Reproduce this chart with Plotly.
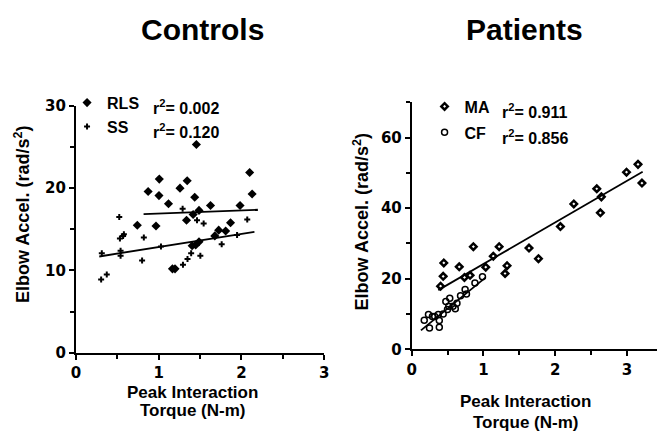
import plotly.graph_objects as go

W, H = 662, 439

# ---------------- data ----------------
rls_x = [1.456, 2.10, 2.13, 1.008, 1.345, 0.873, 1.004, 1.258, 1.436, 1.119, 1.627, 1.984, 1.488,
         1.417, 1.337, 0.742, 0.968, 1.869, 1.726, 1.81, 1.679, 1.488, 1.405, 1.448, 1.167, 1.198]
rls_y = [25.3, 21.9, 19.3, 21.1, 20.9, 19.6, 19.1, 20.0, 18.9, 18.1, 17.9, 17.9, 17.3,
         16.8, 16.1, 15.5, 15.4, 15.8, 14.9, 14.8, 14.2, 13.5, 13.0, 13.1, 10.2, 10.2]
ss_x = [0.305, 0.373, 0.313, 0.54, 0.54, 0.524, 0.532, 0.57, 0.58, 0.821, 0.80, 1.028, 1.29,
        1.464, 1.544, 1.294, 1.349, 1.393, 1.504, 1.762, 1.948, 2.071]
ss_y = [8.9, 9.5, 12.1, 11.8, 12.4, 16.5, 13.9, 14.2, 14.4, 14.0, 11.2, 12.9, 17.5,
        16.1, 15.7, 10.7, 11.4, 12.1, 11.8, 13.2, 14.3, 16.2]
rls_fit_x = [0.818, 2.199]
rls_fit_y = [16.84, 17.38]
ss_fit_x = [0.282, 2.158]
ss_fit_y = [11.7, 14.7]

ma_x = [3.155, 2.995, 3.21, 2.58, 2.644, 2.63, 2.26, 2.073, 1.635, 1.767, 1.219, 0.859, 1.137,
        1.329, 1.301, 1.032, 0.662, 0.447, 0.438, 0.402, 0.735, 0.813]
ma_y = [52.4, 50.2, 47.1, 45.5, 43.2, 38.7, 41.2, 34.8, 28.7, 25.7, 29.1, 29.1, 26.4,
        23.7, 21.5, 23.3, 23.4, 24.5, 20.7, 17.9, 20.4, 21.0]
cf_x = [0.986, 0.881, 0.744, 0.763, 0.68, 0.53, 0.516, 0.607, 0.475, 0.63, 0.498, 0.438, 0.384,
        0.384, 0.288, 0.233, 0.174, 0.32, 0.37, 0.247, 0.575]
cf_y = [20.6, 18.8, 17.0, 15.7, 15.2, 14.5, 12.2, 11.5, 13.6, 13.1, 11.3, 10.0, 8.2,
        6.3, 9.3, 9.9, 8.3, 9.3, 9.9, 6.1, 12.2]
ma_fit_x = [0.37, 3.22]
ma_fit_y = [16.8, 50.3]
cf_fit_x = [0.128, 1.032]
cf_fit_y = [5.4, 20.4]

panel_titles = ["Controls", "Patients"]
legend_names = ["RLS", "SS", "MA", "CF"]
r2_labels = ["r<sup>2</sup>= 0.002", "r<sup>2</sup>= 0.120", "r<sup>2</sup>= 0.911", "r<sup>2</sup>= 0.856"]
y_title = "Elbow Accel. (rad/s<sup>2</sup>)"
x_title_lines = ["Peak Interaction", "Torque (N-m)"]

# ---------------- helpers ----------------
def px(x):
    return x / W

def py(y):
    return 1 - y / H

FONT = "Liberation Sans, Arial, sans-serif"
TICKFONT = dict(family="DejaVu Sans, sans-serif", size=15, color="black", weight="bold")

fig = go.Figure()

# Controls
fig.add_trace(go.Scatter(x=rls_x, y=rls_y, mode="markers", name=legend_names[0],
                         marker=dict(symbol="diamond", size=7, color="black"),
                         xaxis="x", yaxis="y", legend="legend", legendgroup="a"))
fig.add_trace(go.Scatter(x=ss_x, y=ss_y, mode="markers", name=legend_names[1],
                         marker=dict(symbol="cross", size=5, color="black"),
                         xaxis="x", yaxis="y", legend="legend", legendgroup="b"))
fig.add_trace(go.Scatter(x=rls_fit_x, y=rls_fit_y, mode="lines", showlegend=False,
                         line=dict(color="black", width=1.8), xaxis="x", yaxis="y"))
fig.add_trace(go.Scatter(x=ss_fit_x, y=ss_fit_y, mode="lines", showlegend=False,
                         line=dict(color="black", width=1.8), xaxis="x", yaxis="y"))

# Patients
fig.add_trace(go.Scatter(x=ma_x, y=ma_y, mode="markers", name=legend_names[2],
                         marker=dict(symbol="diamond-open", size=5, color="black", line=dict(width=2.5)),
                         xaxis="x2", yaxis="y2", legend="legend2", legendgroup="c"))
fig.add_trace(go.Scatter(x=cf_x, y=cf_y, mode="markers", name=legend_names[3],
                         marker=dict(symbol="circle-open", size=6, color="black", line=dict(width=1.5)),
                         xaxis="x2", yaxis="y2", legend="legend2", legendgroup="d"))
fig.add_trace(go.Scatter(x=ma_fit_x, y=ma_fit_y, mode="lines", showlegend=False,
                         line=dict(color="black", width=1.8), xaxis="x2", yaxis="y2"))
fig.add_trace(go.Scatter(x=cf_fit_x, y=cf_fit_y, mode="lines", showlegend=False,
                         line=dict(color="black", width=1.8), xaxis="x2", yaxis="y2"))

axis_common = dict(showline=True, linecolor="black", linewidth=2, showgrid=False, zeroline=False,
                   ticks="outside", ticklen=5, tickwidth=1.5, tickcolor="black",
                   tickfont=TICKFONT, fixedrange=True)

fig.update_layout(
    width=W, height=H,
    margin=dict(l=0, r=0, t=0, b=0),
    paper_bgcolor="white", plot_bgcolor="white",
    font=dict(family=FONT, color="black"),
    xaxis=dict(domain=[px(72), px(324)], range=[0, 3], anchor="y", dtick=1, tick0=0,
               ticklabelstandoff=0,
               minor=dict(dtick=0.5, ticks="outside", ticklen=4, tickcolor="black", tickwidth=1.5),
               **axis_common),
    yaxis=dict(domain=[py(358.5), py(101)], range=[0, 30], anchor="x", dtick=10, tick0=0,
               minor=dict(dtick=5, ticks="outside", ticklen=4, tickcolor="black", tickwidth=1.5),
               **axis_common),
    xaxis2=dict(domain=[px(413), 1.0], range=[0, 3.42], anchor="y2", dtick=1, tick0=0,
                ticklabelstandoff=1,
                minor=dict(dtick=0.5, ticks="outside", ticklen=4, tickcolor="black", tickwidth=1.5),
                **axis_common),
    yaxis2=dict(domain=[py(355), py(97.2)], range=[0, 70], anchor="x2", dtick=20, tick0=0,
                minor=dict(dtick=10, ticks="outside", ticklen=4, tickcolor="black", tickwidth=1.5),
                **axis_common),
    legend=dict(x=px(63), y=py(80), xanchor="left", yanchor="top", bgcolor="rgba(0,0,0,0)",
                font=dict(family=FONT, size=16, color="black", weight="bold"),
                tracegroupgap=0, itemwidth=30),
    legend2=dict(x=px(426), y=py(84), xanchor="left", yanchor="top", bgcolor="rgba(0,0,0,0)",
                 font=dict(family=FONT, size=16, color="black", weight="bold"),
                 tracegroupgap=2, itemwidth=30),
)

ann = []
# panel titles
for t, cx in zip(panel_titles, [201, 527]):
    ann.append(dict(text=t, x=px(cx), y=py(21.5), xref="paper", yref="paper", showarrow=False,
                    xanchor="center", yanchor="middle",
                    font=dict(family=FONT, size=30, color="black", weight="bold")))
# r^2 labels
for t, (lx, ly) in zip(r2_labels, [(148, 101.7), (148, 126.7), (503, 106), (503, 133)]):
    ann.append(dict(text=t, x=px(lx), y=py(ly), xref="paper", yref="paper", showarrow=False,
                    xanchor="left", yanchor="middle",
                    font=dict(family=FONT, size=16, color="black", weight="bold")))
# y titles
for cx, cy in [(17, 214), (362, 222)]:
    ann.append(dict(text=y_title, x=px(cx), y=py(cy), xref="paper", yref="paper", showarrow=False,
                    textangle=-90, xanchor="center", yanchor="middle",
                    font=dict(family=FONT, size=18, color="black", weight="bold")))
# x titles
for cx, ys in [(190, (400, 419)), (528.5, (409, 431))]:
    for line, yy in zip(x_title_lines, ys):
        ann.append(dict(text=line, x=px(cx), y=py(yy), xref="paper", yref="paper", showarrow=False,
                        xanchor="center", yanchor="middle", borderpad=0,
                        font=dict(family=FONT, size=17, color="black", weight="bold")))
fig.update_layout(annotations=ann)

fig.write_html("out.html")
